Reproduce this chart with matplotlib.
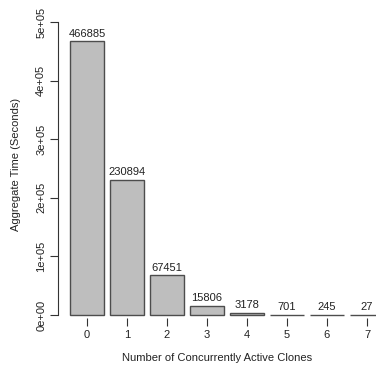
import matplotlib
matplotlib.use('Agg')
import matplotlib.pyplot as plt

clones = ['0', '1', '2', '3', '4', '5', '6', '7']
agg_time = [466885, 230894, 67451, 15806, 3178, 701, 245, 27]
y_ticks = [0, 100000, 200000, 300000, 400000, 500000]
y_tick_labels = ['0e+00', '1e+05', '2e+05', '3e+05', '4e+05', '5e+05']

plt.rcParams['font.family'] = ['Liberation Sans', 'DejaVu Sans']

W, H = 376, 365
fig = plt.figure(figsize=(W / 100, H / 100), dpi=100)
# axes box in pixel coords: left 58, right 376, bottom 318, top 10
ax = fig.add_axes([58 / W, (H - 318) / H, (W - 58) / W, (318 - 10) / H])

pos = list(range(len(clones)))
ax.bar(pos, agg_time, width=0.833, color='#bebebe', edgecolor='#4d4d4d', linewidth=1.0)

for x, v in zip(pos, agg_time):
    ax.annotate(str(v), (x, v), xytext=(0, 2), textcoords='offset points',
                ha='center', va='bottom', fontsize=8, color='#222222')

# pixel scale: 40 px per bar, 293 px per 5e5
px_x = 40.0
ax.set_xlim(-(87 - 58) / px_x, (W - 87) / px_x)
px_y = 293.0 / 500000
ax.set_ylim(-3 / px_y, 500000 + 12 / px_y)

for s in ['top', 'right', 'bottom']:
    ax.spines[s].set_visible(False)
ax.spines['left'].set_bounds(0, 500000)
ax.spines['left'].set_color('#333333')

ax.set_yticks(y_ticks)
ax.set_yticklabels(y_tick_labels, rotation=90, va='center', fontsize=8, color='#222222')
ax.set_xticks(pos)
ax.set_xticklabels(clones, fontsize=8, color='#222222')
ax.tick_params(axis='x', length=6, color='#333333', pad=3)
ax.tick_params(axis='y', length=6, color='#333333', pad=2.5)

ax.set_xlabel('Number of Concurrently Active Clones', fontsize=8, labelpad=9, color='#222222')
ax.set_ylabel('Aggregate Time (Seconds)', fontsize=8, labelpad=11, color='#222222')

fig.savefig('out.png', dpi=100)
